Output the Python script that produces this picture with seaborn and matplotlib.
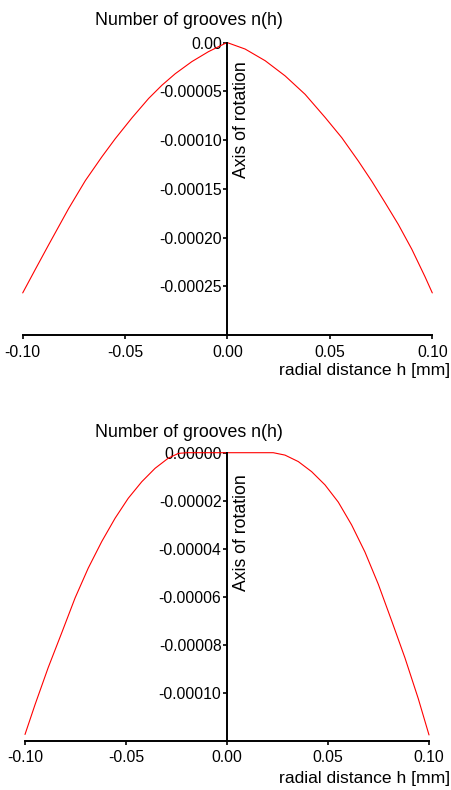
import matplotlib
matplotlib.use("Agg")
import matplotlib.pyplot as plt
import seaborn as sns
import pandas as pd

# ---- data ----
top_h = [-0.1000, -0.0938, -0.0873, -0.0776, -0.0694, -0.0613, -0.0548, -0.0466,
         -0.0385, -0.0320, -0.0255, -0.0174, -0.0093, -0.0011, 0.0,
         0.0086, 0.0184, 0.0281, 0.0379, 0.0477, 0.0558, 0.0639, 0.0704,
         0.0769, 0.0834, 0.0900, 0.0964, 0.1000]
top_n = [-0.0002568, -0.0002325, -0.0002073, -0.0001703, -0.0001415, -0.0001170,
         -0.0000985, -0.0000770, -0.0000572, -0.0000436, -0.0000318, -0.0000194,
         -0.0000092, -0.0000007, 0.0,
         -0.0000065, -0.0000185, -0.0000340, -0.0000530, -0.0000768, -0.0000975,
         -0.0001215, -0.0001420, -0.0001640, -0.0001865, -0.0002120, -0.0002400,
         -0.0002568]

bot_h = [-0.1000, -0.0950, -0.0885, -0.0818, -0.0752, -0.0687, -0.0620, -0.0554,
         -0.0489, -0.0422, -0.0356, -0.0291, -0.0241, -0.0200, 0.0, 0.0229,
         0.0287, 0.0353, 0.0419, 0.0485, 0.0551, 0.0617, 0.0683, 0.0749,
         0.0815, 0.0881, 0.0947, 0.1000]
bot_n = [-0.0001174, -0.0001049, -0.0000895, -0.0000750, -0.0000605, -0.0000481,
         -0.0000370, -0.0000273, -0.0000190, -0.0000121, -0.0000065, -0.0000023,
         -0.0000003, 0.0, 0.0, 0.0,
         -0.0000010, -0.0000037, -0.0000079, -0.0000134, -0.0000206, -0.0000301,
         -0.0000414, -0.0000548, -0.0000700, -0.0000855, -0.0001025, -0.0001176]

x_ticks = [-0.10, -0.05, 0.00, 0.05, 0.10]
x_labels = ["-0.10", "-0.05", "0.00", "0.05", "0.10"]
top_yticks = [0.0, -0.00005, -0.00010, -0.00015, -0.00020, -0.00025]
top_ylabels = ["0.00", "-0.00005", "-0.00010", "-0.00015", "-0.00020", "-0.00025"]
bot_yticks = [0.0, -0.00002, -0.00004, -0.00006, -0.00008, -0.00010]
bot_ylabels = ["0.00000", "-0.00002", "-0.00004", "-0.00006", "-0.00008", "-0.00010"]

title_text = "Number of grooves n(h)"
axis_text = "Axis of rotation"
xlabel_text = "radial distance h [mm]"

sns.set_style("ticks")
plt.rcParams['font.family'] = ['Liberation Sans', 'DejaVu Sans']
plt.rcParams['text.color'] = 'black'
plt.rcParams['xtick.color'] = 'black'
plt.rcParams['ytick.color'] = 'black'

W, H = 452, 790
fig = plt.figure(figsize=(W / 100, H / 100), dpi=100)


def px_axes(x0, x1, ytop, ybot):
    return fig.add_axes([x0 / W, 1 - ybot / H, (x1 - x0) / W, (ybot - ytop) / H])


def style(ax, ymin, yticks, ylabels):
    ax.set_xlim(-0.1, 0.1)
    ax.set_ylim(ymin, 0.0)
    for s in ["top", "right"]:
        ax.spines[s].set_visible(False)
    ax.spines["left"].set_position(("data", 0))
    for s in ["left", "bottom"]:
        ax.spines[s].set_linewidth(1.4)
        ax.spines[s].set_color("black")
    ax.set_xticks(x_ticks)
    ax.set_xticklabels(x_labels)
    ax.set_yticks(yticks)
    ax.set_yticklabels(ylabels)
    ax.tick_params(axis="both", direction="out", length=3, width=1.2,
                   color="black", labelsize=11.3, labelcolor="black")
    ax.tick_params(axis="y", pad=1)
    ax.tick_params(axis="x", pad=4)
    ax.set_xlabel("")
    ax.set_ylabel("")
    ax.patch.set_alpha(0)


ax1 = px_axes(22.7, 432.3, 42.7, 335)
df1 = pd.DataFrame({"h": top_h, "n": top_n})
sns.lineplot(data=df1, x="h", y="n", ax=ax1, color="red", linewidth=0.8,
             sort=False, estimator=None, clip_on=False)
style(ax1, -0.0003, top_yticks, top_ylabels)

ax2 = px_axes(25, 429, 452.7, 740.7)
df2 = pd.DataFrame({"h": bot_h, "n": bot_n})
sns.lineplot(data=df2, x="h", y="n", ax=ax2, color="red", linewidth=0.8,
             sort=False, estimator=None, clip_on=False)
style(ax2, -0.00012, bot_yticks, bot_ylabels)

# texts
for (ty, ay, xy) in [(25, 120, 375), (436.7, 533, 782.7)]:
    fig.text(189 / W, 1 - ty / H, title_text, ha="center", va="baseline", fontsize=12.8)
    fig.text(241.5 / W, 1 - ay / H, axis_text, ha="center", va="center",
             rotation=90, fontsize=12.7)
    fig.text(450 / W, 1 - xy / H, xlabel_text, ha="right", va="baseline", fontsize=12.6)

fig.savefig("out.png", dpi=100)
